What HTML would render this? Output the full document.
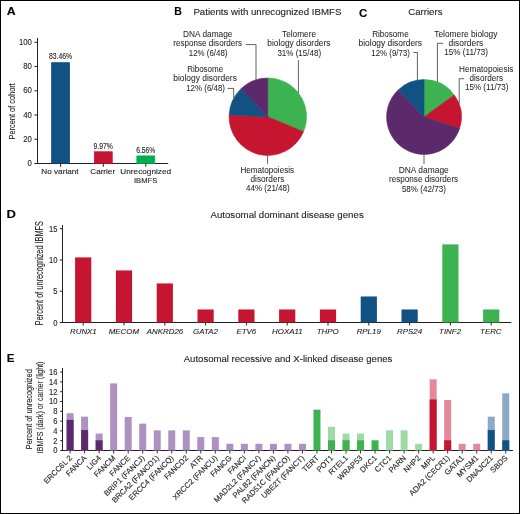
<!DOCTYPE html>
<html><head><meta charset="utf-8"><style>
html,body{margin:0;padding:0;background:#fff;}
body{width:520px;height:514px;overflow:hidden;}
svg{display:block;font-family:"Liberation Sans", sans-serif;will-change:transform;} text{stroke:#231f20;stroke-width:0.12px;} text.lt{stroke-width:0.04px;}
</style></head><body>
<svg width="520" height="514" viewBox="0 0 520 514">
<rect x="0" y="0" width="520" height="514" fill="#fff"/>
<text x="6.69" y="14.9" font-size="11" font-weight="bold" fill="#000" textLength="8.95" lengthAdjust="spacingAndGlyphs">A</text>
<text x="174.19" y="15" font-size="11" font-weight="bold" fill="#000" textLength="7.58" lengthAdjust="spacingAndGlyphs">B</text>
<text x="359.04" y="17" font-size="11" font-weight="bold" fill="#000" textLength="8.27" lengthAdjust="spacingAndGlyphs">C</text>
<text x="6.52" y="218.1" font-size="11" font-weight="bold" fill="#000" textLength="9.43" lengthAdjust="spacingAndGlyphs">D</text>
<text x="6.72" y="361.5" font-size="11" font-weight="bold" fill="#000" textLength="7.74" lengthAdjust="spacingAndGlyphs">E</text>
<line x1="37.5" y1="38" x2="37.5" y2="164" stroke="#231f20" stroke-width="1"/>
<line x1="37" y1="163.5" x2="168.2" y2="163.5" stroke="#231f20" stroke-width="1"/>
<line x1="34.4" y1="163.5" x2="37.5" y2="163.5" stroke="#231f20" stroke-width="1"/>
<text x="27.56" y="166.1" font-size="8.6" fill="#231f20" textLength="4.34" lengthAdjust="spacingAndGlyphs">0</text>
<line x1="34.4" y1="139.26" x2="37.5" y2="139.26" stroke="#231f20" stroke-width="1"/>
<text x="23.23" y="141.86" font-size="8.6" fill="#231f20" textLength="8.68" lengthAdjust="spacingAndGlyphs">20</text>
<line x1="34.4" y1="115.02" x2="37.5" y2="115.02" stroke="#231f20" stroke-width="1"/>
<text x="23.23" y="117.62" font-size="8.6" fill="#231f20" textLength="8.68" lengthAdjust="spacingAndGlyphs">40</text>
<line x1="34.4" y1="90.78" x2="37.5" y2="90.78" stroke="#231f20" stroke-width="1"/>
<text x="23.23" y="93.38" font-size="8.6" fill="#231f20" textLength="8.68" lengthAdjust="spacingAndGlyphs">60</text>
<line x1="34.4" y1="66.54" x2="37.5" y2="66.54" stroke="#231f20" stroke-width="1"/>
<text x="23.23" y="69.14" font-size="8.6" fill="#231f20" textLength="8.68" lengthAdjust="spacingAndGlyphs">80</text>
<line x1="34.4" y1="42.3" x2="37.5" y2="42.3" stroke="#231f20" stroke-width="1"/>
<text x="18.89" y="44.9" font-size="8.6" fill="#231f20" textLength="13.01" lengthAdjust="spacingAndGlyphs">100</text>
<text transform="translate(14.9,0) rotate(-90)" x="-139.51" y="0" font-size="9.7" fill="#231f20" textLength="56.37" lengthAdjust="spacingAndGlyphs">Percent of cohort</text>
<rect x="51.65" y="62.7" width="17.9" height="100.8" fill="#115283" stroke="#0b3f72" stroke-width="0.7"/>
<line x1="60.6" y1="163.5" x2="60.6" y2="166.8" stroke="#231f20" stroke-width="1"/>
<text x="48.91" y="59" font-size="8.6" fill="#231f20" textLength="23.33" lengthAdjust="spacingAndGlyphs">83.46%</text>
<rect x="94.35" y="151.77" width="17.9" height="11.73" fill="#c51530" stroke="#cf0a25" stroke-width="0.7"/>
<line x1="103.3" y1="163.5" x2="103.3" y2="166.8" stroke="#231f20" stroke-width="1"/>
<text x="93.49" y="148.7" font-size="8.6" fill="#231f20" textLength="19.33" lengthAdjust="spacingAndGlyphs">9.97%</text>
<rect x="136.85" y="155.9" width="17.9" height="7.6" fill="#00ad50" stroke="#00b04e" stroke-width="0.7"/>
<line x1="145.8" y1="163.5" x2="145.8" y2="166.8" stroke="#231f20" stroke-width="1"/>
<text x="136.16" y="152.8" font-size="8.6" fill="#231f20" textLength="19.26" lengthAdjust="spacingAndGlyphs">6.56%</text>
<text x="41.33" y="174.2" font-size="7.6" fill="#231f20" textLength="37.24" lengthAdjust="spacingAndGlyphs">No variant</text>
<text x="90.29" y="174.2" font-size="7.6" fill="#231f20" textLength="24.83" lengthAdjust="spacingAndGlyphs">Carrier</text>
<text x="120.36" y="174.2" font-size="7.6" fill="#231f20" textLength="50.65" lengthAdjust="spacingAndGlyphs">Unrecognized</text>
<text x="134.01" y="182.6" font-size="7.6" fill="#231f20">IBMFS</text>
<text x="193.4" y="15" font-size="9.4" fill="#231f20" textLength="148.04" lengthAdjust="spacingAndGlyphs">Patients with unrecognized IBMFS</text>
<path d="M267.8,116.7 L267.8,78 A38.7,38.7 0 0 1 303.5,131.65 Z" fill="#3cb350" stroke="#3cb350" stroke-width="0.6" stroke-linejoin="round"/>
<path d="M267.8,116.7 L303.5,131.65 A38.7,38.7 0 0 1 229.14,114.86 Z" fill="#c51530" stroke="#c51530" stroke-width="0.6" stroke-linejoin="round"/>
<path d="M267.8,116.7 L229.14,114.86 A38.7,38.7 0 0 1 241.09,88.69 Z" fill="#115283" stroke="#115283" stroke-width="0.6" stroke-linejoin="round"/>
<path d="M267.8,116.7 L241.09,88.69 A38.7,38.7 0 0 1 267.8,78 Z" fill="#5c296b" stroke="#5c296b" stroke-width="0.6" stroke-linejoin="round"/>
<text x="183.12" y="36.7" font-size="8.2" fill="#231f20" textLength="49.24" lengthAdjust="spacingAndGlyphs" class="lt">DNA damage</text>
<text x="173.27" y="45.8" font-size="8.2" fill="#231f20" textLength="68.81" lengthAdjust="spacingAndGlyphs" class="lt">response disorders</text>
<text x="188.81" y="55.6" font-size="8.2" fill="#231f20" textLength="38.66" lengthAdjust="spacingAndGlyphs" class="lt">12% (6/48)</text>
<text x="282.01" y="36.7" font-size="8.2" fill="#231f20" textLength="34.04" lengthAdjust="spacingAndGlyphs" class="lt">Telomere</text>
<text x="267.26" y="45.8" font-size="8.2" fill="#231f20" textLength="63.13" lengthAdjust="spacingAndGlyphs" class="lt">biology disorders</text>
<text x="277.4" y="55.5" font-size="8.2" fill="#231f20" textLength="43.69" lengthAdjust="spacingAndGlyphs" class="lt">31% (15/48)</text>
<text x="187.14" y="72.2" font-size="8.2" fill="#231f20" textLength="36.02" lengthAdjust="spacingAndGlyphs" class="lt">Ribosome</text>
<text x="173.25" y="81.3" font-size="8.2" fill="#231f20" textLength="63.64" lengthAdjust="spacingAndGlyphs" class="lt">biology disorders</text>
<text x="186.21" y="90.7" font-size="8.2" fill="#231f20" textLength="38.76" lengthAdjust="spacingAndGlyphs" class="lt">12% (6/48)</text>
<text x="240.43" y="173.1" font-size="8.2" fill="#231f20" textLength="53.65" lengthAdjust="spacingAndGlyphs" class="lt">Hematopoiesis</text>
<text x="250.45" y="182" font-size="8.2" fill="#231f20" textLength="34.04" lengthAdjust="spacingAndGlyphs" class="lt">disorders</text>
<text x="246.02" y="191.3" font-size="8.2" fill="#231f20" textLength="43.66" lengthAdjust="spacingAndGlyphs" class="lt">44% (21/48)</text>
<path d="M245.6,44.6 H256 V80" fill="none" stroke="#3a3a3a" stroke-width="0.8"/>
<path d="M298.4,60.2 V93" fill="none" stroke="#3a3a3a" stroke-width="0.8"/>
<path d="M227.6,88.4 H233.7 V98" fill="none" stroke="#3a3a3a" stroke-width="0.8"/>
<path d="M267.6,155.5 V163.8" fill="none" stroke="#3a3a3a" stroke-width="0.8"/>
<text x="408.22" y="15.3" font-size="9.4" fill="#231f20" textLength="34.23" lengthAdjust="spacingAndGlyphs">Carriers</text>
<path d="M424,117 L424,79.6 A37.4,37.4 0 0 1 454.26,95.02 Z" fill="#3cb350" stroke="#3cb350" stroke-width="0.6" stroke-linejoin="round"/>
<path d="M424,117 L454.26,95.02 A37.4,37.4 0 0 1 459.57,128.56 Z" fill="#c51530" stroke="#c51530" stroke-width="0.6" stroke-linejoin="round"/>
<path d="M424,117 L459.57,128.56 A37.4,37.4 0 1 1 398.4,89.74 Z" fill="#5c296b" stroke="#5c296b" stroke-width="0.6" stroke-linejoin="round"/>
<path d="M424,117 L398.4,89.74 A37.4,37.4 0 0 1 424,79.6 Z" fill="#115283" stroke="#115283" stroke-width="0.6" stroke-linejoin="round"/>
<text x="372.13" y="36.5" font-size="8.2" fill="#231f20" textLength="36.53" lengthAdjust="spacingAndGlyphs" class="lt">Ribosome</text>
<text x="358.55" y="45.9" font-size="8.2" fill="#231f20" textLength="63.54" lengthAdjust="spacingAndGlyphs" class="lt">biology disorders</text>
<text x="371.31" y="55.6" font-size="8.2" fill="#231f20" textLength="38.66" lengthAdjust="spacingAndGlyphs" class="lt">12% (9/73)</text>
<text x="434.21" y="36.6" font-size="8.2" fill="#231f20" textLength="63.21" lengthAdjust="spacingAndGlyphs" class="lt">Telomere biology</text>
<text x="448.54" y="45.9" font-size="8.2" fill="#231f20" textLength="34.66" lengthAdjust="spacingAndGlyphs" class="lt">disorders</text>
<text x="444.29" y="55.2" font-size="8.2" fill="#231f20" textLength="43.61" lengthAdjust="spacingAndGlyphs" class="lt">15% (11/73)</text>
<text x="459.12" y="72.2" font-size="8.2" fill="#231f20" textLength="54.36" lengthAdjust="spacingAndGlyphs" class="lt">Hematopoiesis</text>
<text x="469.55" y="81" font-size="8.2" fill="#231f20" textLength="33.43" lengthAdjust="spacingAndGlyphs" class="lt">disorders</text>
<text x="464.89" y="90.2" font-size="8.2" fill="#231f20" textLength="43.5" lengthAdjust="spacingAndGlyphs" class="lt">15% (11/73)</text>
<text x="398.71" y="172.9" font-size="8.2" fill="#231f20" textLength="50.06" lengthAdjust="spacingAndGlyphs" class="lt">DNA damage</text>
<text x="388.97" y="182.3" font-size="8.2" fill="#231f20" textLength="69.21" lengthAdjust="spacingAndGlyphs" class="lt">response disorders</text>
<text x="401.88" y="191.6" font-size="8.2" fill="#231f20" textLength="44.01" lengthAdjust="spacingAndGlyphs" class="lt">58% (42/73)</text>
<path d="M413.4,52.5 H417.4 V80.5" fill="none" stroke="#3a3a3a" stroke-width="0.8"/>
<path d="M443.1,43.3 H437.4 V82" fill="none" stroke="#3a3a3a" stroke-width="0.8"/>
<path d="M464.1,78.7 H459.2 V103.5" fill="none" stroke="#3a3a3a" stroke-width="0.8"/>
<path d="M424,154.5 V164" fill="none" stroke="#3a3a3a" stroke-width="0.8"/>
<text x="210.48" y="218.1" font-size="9.6" fill="#231f20" textLength="153.25" lengthAdjust="spacingAndGlyphs">Autosomal dominant disease genes</text>
<line x1="62.5" y1="225" x2="62.5" y2="323" stroke="#231f20" stroke-width="1"/>
<line x1="62" y1="322.5" x2="511.3" y2="322.5" stroke="#231f20" stroke-width="1"/>
<line x1="59.8" y1="322.5" x2="62.5" y2="322.5" stroke="#231f20" stroke-width="1"/>
<text x="53.17" y="325.5" font-size="8.4" fill="#231f20" textLength="4.23" lengthAdjust="spacingAndGlyphs">0</text>
<line x1="59.8" y1="291.25" x2="62.5" y2="291.25" stroke="#231f20" stroke-width="1"/>
<text x="53.19" y="294.25" font-size="8.4" fill="#231f20" textLength="4.23" lengthAdjust="spacingAndGlyphs">5</text>
<line x1="59.8" y1="260" x2="62.5" y2="260" stroke="#231f20" stroke-width="1"/>
<text x="48.95" y="263" font-size="8.4" fill="#231f20" textLength="8.45" lengthAdjust="spacingAndGlyphs">10</text>
<line x1="59.8" y1="228.75" x2="62.5" y2="228.75" stroke="#231f20" stroke-width="1"/>
<text x="48.97" y="231.75" font-size="8.4" fill="#231f20" textLength="8.45" lengthAdjust="spacingAndGlyphs">15</text>
<text transform="translate(43,0) rotate(-90)" x="-325.21" y="0" font-size="10.2" fill="#231f20" textLength="104.23" lengthAdjust="spacingAndGlyphs">Percent of unrecognized IBMFS</text>
<rect x="75.1" y="257.4" width="16.2" height="65.1" fill="#c51530"/>
<line x1="83.2" y1="322.5" x2="83.2" y2="325.5" stroke="#231f20" stroke-width="1"/>
<text x="70.03" y="334.2" font-size="7.9" font-style="italic" fill="#231f20">RUNX1</text>
<rect x="115.9" y="270.42" width="16.2" height="52.08" fill="#c51530"/>
<line x1="124" y1="322.5" x2="124" y2="325.5" stroke="#231f20" stroke-width="1"/>
<text x="108.74" y="334.2" font-size="7.9" font-style="italic" fill="#231f20">MECOM</text>
<rect x="156.7" y="283.44" width="16.2" height="39.06" fill="#c51530"/>
<line x1="164.8" y1="322.5" x2="164.8" y2="325.5" stroke="#231f20" stroke-width="1"/>
<text x="146.77" y="334.2" font-size="7.9" font-style="italic" fill="#231f20">ANKRD26</text>
<rect x="197.5" y="309.48" width="16.2" height="13.02" fill="#c51530"/>
<line x1="205.6" y1="322.5" x2="205.6" y2="325.5" stroke="#231f20" stroke-width="1"/>
<text x="193.1" y="334.2" font-size="7.9" font-style="italic" fill="#231f20">GATA2</text>
<rect x="238.3" y="309.48" width="16.2" height="13.02" fill="#c51530"/>
<line x1="246.4" y1="322.5" x2="246.4" y2="325.5" stroke="#231f20" stroke-width="1"/>
<text x="236.4" y="334.2" font-size="7.9" font-style="italic" fill="#231f20">ETV6</text>
<rect x="279.1" y="309.48" width="16.2" height="13.02" fill="#c51530"/>
<line x1="287.2" y1="322.5" x2="287.2" y2="325.5" stroke="#231f20" stroke-width="1"/>
<text x="272.12" y="334.2" font-size="7.9" font-style="italic" fill="#231f20">HOXA11</text>
<rect x="319.9" y="309.48" width="16.2" height="13.02" fill="#c51530"/>
<line x1="328" y1="322.5" x2="328" y2="325.5" stroke="#231f20" stroke-width="1"/>
<text x="316.78" y="334.2" font-size="7.9" font-style="italic" fill="#231f20">THPO</text>
<rect x="360.7" y="296.46" width="16.2" height="26.04" fill="#115283"/>
<line x1="368.8" y1="322.5" x2="368.8" y2="325.5" stroke="#231f20" stroke-width="1"/>
<text x="356.67" y="334.2" font-size="7.9" font-style="italic" fill="#231f20">RPL19</text>
<rect x="401.5" y="309.48" width="16.2" height="13.02" fill="#115283"/>
<line x1="409.6" y1="322.5" x2="409.6" y2="325.5" stroke="#231f20" stroke-width="1"/>
<text x="397.11" y="334.2" font-size="7.9" font-style="italic" fill="#231f20">RPS24</text>
<rect x="442.3" y="244.38" width="16.2" height="78.12" fill="#3cb350"/>
<line x1="450.4" y1="322.5" x2="450.4" y2="325.5" stroke="#231f20" stroke-width="1"/>
<text x="439.12" y="334.2" font-size="7.9" font-style="italic" fill="#231f20">TINF2</text>
<rect x="483.1" y="309.48" width="16.2" height="13.02" fill="#3cb350"/>
<line x1="491.2" y1="322.5" x2="491.2" y2="325.5" stroke="#231f20" stroke-width="1"/>
<text x="480.07" y="334.2" font-size="7.9" font-style="italic" fill="#231f20">TERC</text>
<text x="183.73" y="361.7" font-size="9.6" fill="#231f20" textLength="208.62" lengthAdjust="spacingAndGlyphs">Autosomal recessive and X-linked disease genes</text>
<line x1="62.5" y1="368" x2="62.5" y2="451" stroke="#231f20" stroke-width="1"/>
<line x1="62" y1="450.5" x2="513" y2="450.5" stroke="#231f20" stroke-width="1"/>
<line x1="60.2" y1="450.5" x2="62.5" y2="450.5" stroke="#231f20" stroke-width="1"/>
<text x="53.27" y="453.4" font-size="8.4" fill="#231f20" textLength="4.23" lengthAdjust="spacingAndGlyphs">0</text>
<line x1="60.2" y1="440.7" x2="62.5" y2="440.7" stroke="#231f20" stroke-width="1"/>
<text x="53.34" y="443.6" font-size="8.4" fill="#231f20" textLength="4.23" lengthAdjust="spacingAndGlyphs">2</text>
<line x1="60.2" y1="430.9" x2="62.5" y2="430.9" stroke="#231f20" stroke-width="1"/>
<text x="53.19" y="433.8" font-size="8.4" fill="#231f20" textLength="4.23" lengthAdjust="spacingAndGlyphs">4</text>
<line x1="60.2" y1="421.1" x2="62.5" y2="421.1" stroke="#231f20" stroke-width="1"/>
<text x="53.3" y="424" font-size="8.4" fill="#231f20" textLength="4.23" lengthAdjust="spacingAndGlyphs">6</text>
<line x1="60.2" y1="411.3" x2="62.5" y2="411.3" stroke="#231f20" stroke-width="1"/>
<text x="53.3" y="414.2" font-size="8.4" fill="#231f20" textLength="4.23" lengthAdjust="spacingAndGlyphs">8</text>
<line x1="60.2" y1="401.5" x2="62.5" y2="401.5" stroke="#231f20" stroke-width="1"/>
<text x="49.05" y="404.4" font-size="8.4" fill="#231f20" textLength="8.45" lengthAdjust="spacingAndGlyphs">10</text>
<line x1="60.2" y1="391.7" x2="62.5" y2="391.7" stroke="#231f20" stroke-width="1"/>
<text x="49.12" y="394.6" font-size="8.4" fill="#231f20" textLength="8.45" lengthAdjust="spacingAndGlyphs">12</text>
<line x1="60.2" y1="381.9" x2="62.5" y2="381.9" stroke="#231f20" stroke-width="1"/>
<text x="48.97" y="384.8" font-size="8.4" fill="#231f20" textLength="8.45" lengthAdjust="spacingAndGlyphs">14</text>
<line x1="60.2" y1="372.1" x2="62.5" y2="372.1" stroke="#231f20" stroke-width="1"/>
<text x="49.09" y="375" font-size="8.4" fill="#231f20" textLength="8.45" lengthAdjust="spacingAndGlyphs">16</text>
<text transform="translate(31.6,0) rotate(-90)" x="-449.21" y="0" font-size="9.7" fill="#231f20" textLength="79.97" lengthAdjust="spacingAndGlyphs">Percent of unrecognized</text>
<text transform="translate(43.1,0) rotate(-90)" x="-453.15" y="0" font-size="9.7" fill="#231f20" textLength="91.57" lengthAdjust="spacingAndGlyphs">IBMFS (dark) or carrier (light)</text>
<rect x="66.6" y="413.16" width="7" height="37.34" fill="#ad92c0"/>
<rect x="66.6" y="419.88" width="7" height="30.62" fill="#5c296b"/>
<line x1="70.1" y1="450.5" x2="70.1" y2="453.5" stroke="#231f20" stroke-width="0.9"/>
<text transform="translate(72.5,458.5) rotate(-45)" text-anchor="end" font-size="7.7" fill="#231f20">ERCC6L 2</text>
<rect x="81.12" y="416.66" width="7" height="33.84" fill="#ad92c0"/>
<rect x="81.12" y="430.08" width="7" height="20.42" fill="#5c296b"/>
<line x1="84.62" y1="450.5" x2="84.62" y2="453.5" stroke="#231f20" stroke-width="0.9"/>
<text transform="translate(87.02,458.5) rotate(-45)" text-anchor="end" font-size="7.7" fill="#231f20">FANCA</text>
<rect x="95.64" y="433.58" width="7" height="16.92" fill="#ad92c0"/>
<rect x="95.64" y="440.29" width="7" height="10.21" fill="#5c296b"/>
<line x1="99.14" y1="450.5" x2="99.14" y2="453.5" stroke="#231f20" stroke-width="0.9"/>
<text transform="translate(101.54,458.5) rotate(-45)" text-anchor="end" font-size="7.7" fill="#231f20">LIG4</text>
<rect x="110.17" y="383.38" width="7" height="67.12" fill="#ad92c0"/>
<line x1="113.67" y1="450.5" x2="113.67" y2="453.5" stroke="#231f20" stroke-width="0.9"/>
<text transform="translate(116.07,458.5) rotate(-45)" text-anchor="end" font-size="7.7" fill="#231f20">FANCM</text>
<rect x="124.69" y="416.94" width="7" height="33.56" fill="#ad92c0"/>
<line x1="128.19" y1="450.5" x2="128.19" y2="453.5" stroke="#231f20" stroke-width="0.9"/>
<text transform="translate(130.59,458.5) rotate(-45)" text-anchor="end" font-size="7.7" fill="#231f20">FANCE</text>
<rect x="139.21" y="423.65" width="7" height="26.85" fill="#ad92c0"/>
<line x1="142.71" y1="450.5" x2="142.71" y2="453.5" stroke="#231f20" stroke-width="0.9"/>
<text transform="translate(145.11,458.5) rotate(-45)" text-anchor="end" font-size="7.7" fill="#231f20">BRIP1 (FANCJ)</text>
<rect x="153.73" y="430.36" width="7" height="20.14" fill="#ad92c0"/>
<line x1="157.23" y1="450.5" x2="157.23" y2="453.5" stroke="#231f20" stroke-width="0.9"/>
<text transform="translate(159.63,458.5) rotate(-45)" text-anchor="end" font-size="7.7" fill="#231f20">BRCA2 (FANCD1)</text>
<rect x="168.25" y="430.36" width="7" height="20.14" fill="#ad92c0"/>
<line x1="171.75" y1="450.5" x2="171.75" y2="453.5" stroke="#231f20" stroke-width="0.9"/>
<text transform="translate(174.15,458.5) rotate(-45)" text-anchor="end" font-size="7.7" fill="#231f20">ERCC4 (FANCQ)</text>
<rect x="182.78" y="430.36" width="7" height="20.14" fill="#ad92c0"/>
<line x1="186.28" y1="450.5" x2="186.28" y2="453.5" stroke="#231f20" stroke-width="0.9"/>
<text transform="translate(188.68,458.5) rotate(-45)" text-anchor="end" font-size="7.7" fill="#231f20">FANCD2</text>
<rect x="197.3" y="437.08" width="7" height="13.42" fill="#ad92c0"/>
<line x1="200.8" y1="450.5" x2="200.8" y2="453.5" stroke="#231f20" stroke-width="0.9"/>
<text transform="translate(203.2,458.5) rotate(-45)" text-anchor="end" font-size="7.7" fill="#231f20">ATR</text>
<rect x="211.82" y="437.08" width="7" height="13.42" fill="#ad92c0"/>
<line x1="215.32" y1="450.5" x2="215.32" y2="453.5" stroke="#231f20" stroke-width="0.9"/>
<text transform="translate(217.72,458.5) rotate(-45)" text-anchor="end" font-size="7.7" fill="#231f20">XRCC2 (FANCU)</text>
<rect x="226.34" y="443.79" width="7" height="6.71" fill="#ad92c0"/>
<line x1="229.84" y1="450.5" x2="229.84" y2="453.5" stroke="#231f20" stroke-width="0.9"/>
<text transform="translate(232.24,458.5) rotate(-45)" text-anchor="end" font-size="7.7" fill="#231f20">FANCG</text>
<rect x="240.86" y="443.79" width="7" height="6.71" fill="#ad92c0"/>
<line x1="244.36" y1="450.5" x2="244.36" y2="453.5" stroke="#231f20" stroke-width="0.9"/>
<text transform="translate(246.76,458.5) rotate(-45)" text-anchor="end" font-size="7.7" fill="#231f20">FANCI</text>
<rect x="255.39" y="443.79" width="7" height="6.71" fill="#ad92c0"/>
<line x1="258.89" y1="450.5" x2="258.89" y2="453.5" stroke="#231f20" stroke-width="0.9"/>
<text transform="translate(261.29,458.5) rotate(-45)" text-anchor="end" font-size="7.7" fill="#231f20">MAD2L2 (FANCV)</text>
<rect x="269.91" y="443.79" width="7" height="6.71" fill="#ad92c0"/>
<line x1="273.41" y1="450.5" x2="273.41" y2="453.5" stroke="#231f20" stroke-width="0.9"/>
<text transform="translate(275.81,458.5) rotate(-45)" text-anchor="end" font-size="7.7" fill="#231f20">PALB2 (FANCN)</text>
<rect x="284.43" y="443.79" width="7" height="6.71" fill="#ad92c0"/>
<line x1="287.93" y1="450.5" x2="287.93" y2="453.5" stroke="#231f20" stroke-width="0.9"/>
<text transform="translate(290.33,458.5) rotate(-45)" text-anchor="end" font-size="7.7" fill="#231f20">RAD51C (FANCO)</text>
<rect x="298.95" y="443.79" width="7" height="6.71" fill="#ad92c0"/>
<line x1="302.45" y1="450.5" x2="302.45" y2="453.5" stroke="#231f20" stroke-width="0.9"/>
<text transform="translate(304.85,458.5) rotate(-45)" text-anchor="end" font-size="7.7" fill="#231f20">UBE2T (FANCT)</text>
<rect x="313.47" y="409.67" width="7" height="40.83" fill="#3cb350"/>
<line x1="316.97" y1="450.5" x2="316.97" y2="453.5" stroke="#231f20" stroke-width="0.9"/>
<text transform="translate(319.37,458.5) rotate(-45)" text-anchor="end" font-size="7.7" fill="#231f20">TERT</text>
<rect x="328" y="426.87" width="7" height="23.63" fill="#9fd9a5"/>
<rect x="328" y="440.29" width="7" height="10.21" fill="#3cb350"/>
<line x1="331.5" y1="450.5" x2="331.5" y2="453.5" stroke="#231f20" stroke-width="0.9"/>
<text transform="translate(333.9,458.5) rotate(-45)" text-anchor="end" font-size="7.7" fill="#231f20">POT1</text>
<rect x="342.52" y="433.58" width="7" height="16.92" fill="#9fd9a5"/>
<rect x="342.52" y="440.29" width="7" height="10.21" fill="#3cb350"/>
<line x1="346.02" y1="450.5" x2="346.02" y2="453.5" stroke="#231f20" stroke-width="0.9"/>
<text transform="translate(348.42,458.5) rotate(-45)" text-anchor="end" font-size="7.7" fill="#231f20">RTEL1</text>
<rect x="357.04" y="433.58" width="7" height="16.92" fill="#9fd9a5"/>
<rect x="357.04" y="440.29" width="7" height="10.21" fill="#3cb350"/>
<line x1="360.54" y1="450.5" x2="360.54" y2="453.5" stroke="#231f20" stroke-width="0.9"/>
<text transform="translate(362.94,458.5) rotate(-45)" text-anchor="end" font-size="7.7" fill="#231f20">WRAP53</text>
<rect x="371.56" y="440.29" width="7" height="10.21" fill="#3cb350"/>
<line x1="375.06" y1="450.5" x2="375.06" y2="453.5" stroke="#231f20" stroke-width="0.9"/>
<text transform="translate(377.46,458.5) rotate(-45)" text-anchor="end" font-size="7.7" fill="#231f20">DKC1</text>
<rect x="386.08" y="430.36" width="7" height="20.14" fill="#9fd9a5"/>
<line x1="389.58" y1="450.5" x2="389.58" y2="453.5" stroke="#231f20" stroke-width="0.9"/>
<text transform="translate(391.98,458.5) rotate(-45)" text-anchor="end" font-size="7.7" fill="#231f20">CTC1</text>
<rect x="400.61" y="430.36" width="7" height="20.14" fill="#9fd9a5"/>
<line x1="404.11" y1="450.5" x2="404.11" y2="453.5" stroke="#231f20" stroke-width="0.9"/>
<text transform="translate(406.51,458.5) rotate(-45)" text-anchor="end" font-size="7.7" fill="#231f20">PARN</text>
<rect x="415.13" y="443.79" width="7" height="6.71" fill="#9fd9a5"/>
<line x1="418.63" y1="450.5" x2="418.63" y2="453.5" stroke="#231f20" stroke-width="0.9"/>
<text transform="translate(421.03,458.5) rotate(-45)" text-anchor="end" font-size="7.7" fill="#231f20">NHP2</text>
<rect x="429.65" y="379.32" width="7" height="71.18" fill="#e28a9b"/>
<rect x="429.65" y="399.46" width="7" height="51.04" fill="#c51530"/>
<line x1="433.15" y1="450.5" x2="433.15" y2="453.5" stroke="#231f20" stroke-width="0.9"/>
<text transform="translate(435.55,458.5) rotate(-45)" text-anchor="end" font-size="7.7" fill="#231f20">MPL</text>
<rect x="444.17" y="400.02" width="7" height="50.48" fill="#e28a9b"/>
<rect x="444.17" y="440.29" width="7" height="10.21" fill="#c51530"/>
<line x1="447.67" y1="450.5" x2="447.67" y2="453.5" stroke="#231f20" stroke-width="0.9"/>
<text transform="translate(450.07,458.5) rotate(-45)" text-anchor="end" font-size="7.7" fill="#231f20">ADA2 (CECR1)</text>
<rect x="458.69" y="443.79" width="7" height="6.71" fill="#e28a9b"/>
<line x1="462.19" y1="450.5" x2="462.19" y2="453.5" stroke="#231f20" stroke-width="0.9"/>
<text transform="translate(464.59,458.5) rotate(-45)" text-anchor="end" font-size="7.7" fill="#231f20">GATA1</text>
<rect x="473.22" y="443.79" width="7" height="6.71" fill="#e28a9b"/>
<line x1="476.72" y1="450.5" x2="476.72" y2="453.5" stroke="#231f20" stroke-width="0.9"/>
<text transform="translate(479.12,458.5) rotate(-45)" text-anchor="end" font-size="7.7" fill="#231f20">MYSM1</text>
<rect x="487.74" y="416.66" width="7" height="33.84" fill="#8aa9c6"/>
<rect x="487.74" y="430.08" width="7" height="20.42" fill="#115283"/>
<line x1="491.24" y1="450.5" x2="491.24" y2="453.5" stroke="#231f20" stroke-width="0.9"/>
<text transform="translate(493.64,458.5) rotate(-45)" text-anchor="end" font-size="7.7" fill="#231f20">DNAJC21</text>
<rect x="502.26" y="393.31" width="7" height="57.19" fill="#8aa9c6"/>
<rect x="502.26" y="440.29" width="7" height="10.21" fill="#115283"/>
<line x1="505.76" y1="450.5" x2="505.76" y2="453.5" stroke="#231f20" stroke-width="0.9"/>
<text transform="translate(508.16,458.5) rotate(-45)" text-anchor="end" font-size="7.7" fill="#231f20">SBDS</text>
<rect x="0.5" y="0.5" width="519" height="513" fill="none" stroke="#000" stroke-width="1"/>
</svg>
</body></html>
